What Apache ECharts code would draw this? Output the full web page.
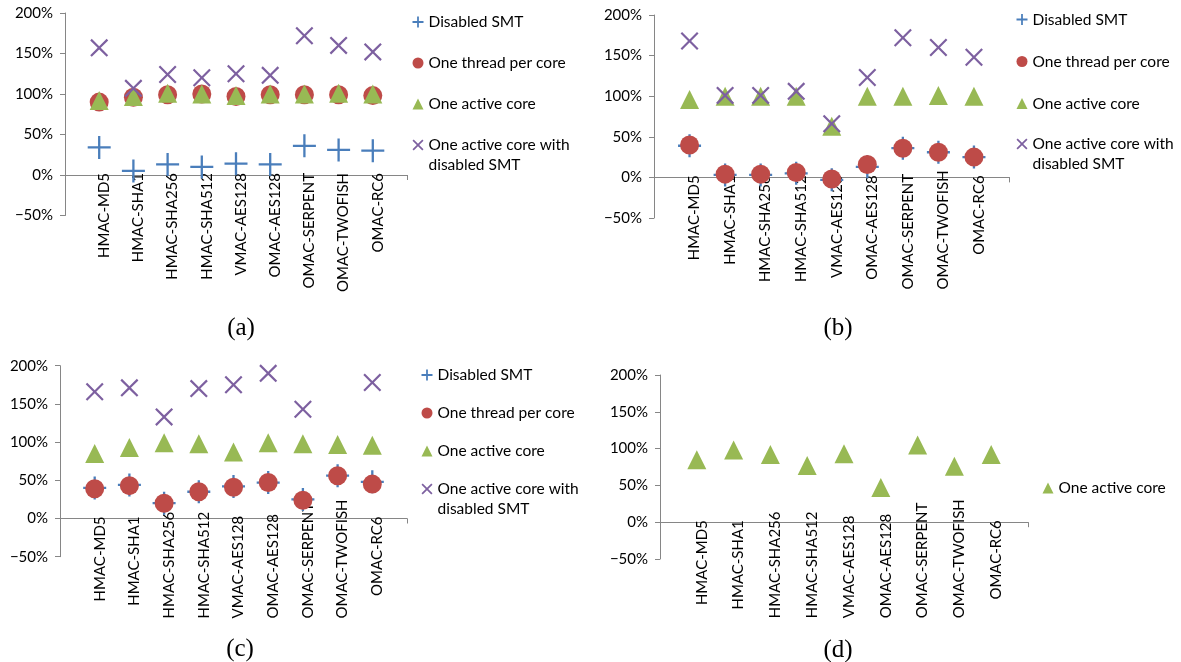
<!DOCTYPE html>
<html><head><meta charset="utf-8">
<script src="https://cdn.jsdelivr.net/npm/echarts@6/dist/echarts.min.js"></script>
<style>html,body{margin:0;padding:0;background:#fff}#c{width:1181px;height:662px}</style>
</head><body><div id="c"></div>
<script>
// ---------- data ----------
const categories = ['HMAC-MD5','HMAC-SHA1','HMAC-SHA256','HMAC-SHA512','VMAC-AES128','OMAC-AES128','OMAC-SERPENT','OMAC-TWOFISH','OMAC-RC6'];
const seriesNames = ['Disabled SMT','One thread per core','One active core','One active core with disabled SMT'];
const captions = ['(a)','(b)','(c)','(d)'];
const yMin = -50, yMax = 200, yStep = 50;

const aDisabledSMT        = [34, 5, 13, 10, 14, 13, 36, 31, 30];
const aOneThreadPerCore   = [90, 96, 99, 100, 97, 99, 99, 99, 98];
const aOneActiveCore      = [92, 97, 101, 100, 98, 100, 100, 101, 100];
const aOneActiveCoreNoSMT = [157, 107, 124, 120, 125, 123, 172, 160, 152];

const bDisabledSMT        = [39, 3, 3, 5, -3, 13, 36, 31, 25];
const bOneThreadPerCore   = [40, 4, 4, 6, -2, 16, 36, 31, 25];
const bOneActiveCore      = [96, 100, 100, 100, 63, 100, 100, 101, 100];
const bOneActiveCoreNoSMT = [168, 101, 101, 106, 66, 123, 172, 160, 148];

const cDisabledSMT        = [40, 44, 20, 35, 42, 47, 25, 56, 48];
const cOneThreadPerCore   = [39, 43, 20, 35, 41, 47, 24, 56, 45];
const cOneActiveCore      = [85, 93, 99, 98, 87, 99, 98, 97, 96];
const cOneActiveCoreNoSMT = [166, 171, 133, 170, 175, 190, 143, null, 178];

const dOneActiveCore      = [85, 98, 92, 77, 93, 47, 105, 76, 92];

// ---------- styling ----------
const colors = ['#4A7EBB', '#BE4B48', '#98B954', '#7D60A0'];
const plusPath = 'path://M45,0 L55,0 L55,45 L100,45 L100,55 L55,55 L55,100 L45,100 L45,55 L0,55 L0,45 L45,45 Z';
const plusIcon = 'path://M42,0 L58,0 L58,42 L100,42 L100,58 L58,58 L58,100 L42,100 L42,58 L0,58 L0,42 L42,42 Z';
const xPath = 'path://M0,8.6 L8.6,0 L50,41.4 L91.4,0 L100,8.6 L58.6,50 L100,91.4 L91.4,100 L50,58.6 L8.6,100 L0,91.4 L41.4,50 Z';
const xIcon = 'path://M0,11 L11,0 L50,39 L89,0 L100,11 L61,50 L100,89 L89,100 L50,61 L11,100 L0,89 L39,50 Z';
const symbols = [plusPath, 'circle', 'triangle', xPath];
const icons = [plusIcon, 'circle', 'triangle', xIcon];
const sizes = [23, 19, 19, 18];
const axisGray = '#868686';
const FONT = 'Lato';
const LABEL_SIZE = 15;
const labelShiftPx = 5;

const panels = [
  {grid:{left:65, top:13, width:342, height:202.5}, sets:[aDisabledSMT,aOneThreadPerCore,aOneActiveCore,aOneActiveCoreNoSMT],
   legend:{left:412.5, top:12, gap:21, top4:115}, cap:[241,328], labelRoom:125},
  {grid:{left:654, top:15, width:355.5, height:203}, sets:[bDisabledSMT,bOneThreadPerCore,bOneActiveCore,bOneActiveCoreNoSMT],
   legend:{left:1016.5, top:9.5, gap:22, top4:114}, cap:[838,328], labelRoom:110},
  {grid:{left:60, top:365.7, width:347, height:191}, sets:[cDisabledSMT,cOneThreadPerCore,cOneActiveCore,cOneActiveCoreNoSMT],
   legend:{left:421.5, top:365, gap:18, top4:459}, cap:[240,649], labelRoom:98},
  {grid:{left:660, top:375, width:368, height:184}, sets:[null,null,dOneActiveCore,null],
   legend:{left:1042.5, top:478, gap:18, top4:null}, cap:[838,650], labelRoom:94}
];

// text measurement, so over-long labels stop at the available room (as in the original)
const ctx = document.createElement('canvas').getContext('2d');
ctx.font = LABEL_SIZE + 'px ' + FONT;
const textLen = s => ctx.measureText(s).width;

const grid = [], xAxis = [], yAxis = [], series = [], legend = [], graphic = [];
const legendText = {fontFamily: FONT, fontSize: 15.5, lineHeight: 20, color: '#000'};
const nX = categories.length + 1;
const labelTopGap = -2;

panels.forEach((p, pi) => {
  grid.push(Object.assign({outerBoundsMode: 'none', containLabel: false}, p.grid));
  const zeroOffset = p.grid.height * (0 - yMin) / (yMax - yMin);
  const shift = labelShiftPx * nX / p.grid.width;
  const longIdx = [], shortIdx = [];
  categories.forEach((c, i) => (textLen(c) + 2 > p.labelRoom ? longIdx : shortIdx).push(i));
  const xi = xAxis.length;
  const fmt = v => categories[Math.round(v) - 1] || '';
  xAxis.push({
    type: 'value', gridIndex: pi, min: 0, max: nX, offset: -zeroOffset,
    axisLine: {onZero: false, lineStyle: {color: axisGray, width: 1}},
    axisTick: {show: true, length: 5, customValues: [nX], lineStyle: {color: axisGray}},
    splitLine: {show: false},
    axisLabel: {
      customValues: shortIdx.map(i => i + 1 + shift),
      rotate: 90, margin: labelTopGap, color: '#000', fontFamily: FONT, fontSize: LABEL_SIZE,
      formatter: fmt
    }
  });
  if (longIdx.length) {
    // a label-only axis lying at the bottom of the label room; its labels grow upward from it
    xAxis.push({
      type: 'value', gridIndex: pi, min: 0, max: nX, position: 'top',
      offset: -(p.grid.height - zeroOffset + p.labelRoom),
      axisLine: {show: false, onZero: false}, axisTick: {show: false}, splitLine: {show: false},
      axisLabel: {
        customValues: longIdx.map(i => i + 1 + shift),
        rotate: -90, margin: labelTopGap, color: '#000', fontFamily: FONT, fontSize: LABEL_SIZE,
        formatter: fmt
      }
    });
  }
  yAxis.push({
    type: 'value', gridIndex: pi, min: yMin, max: yMax, interval: yStep,
    axisLine: {show: true, lineStyle: {color: axisGray, width: 1}},
    axisTick: {show: true, length: 5, lineStyle: {color: axisGray}},
    splitLine: {show: false},
    axisLabel: {margin: 12, color: '#000', fontFamily: FONT, fontSize: 15,
      formatter: v => (v < 0 ? '\u2212' + Math.abs(v) : v) + '%'}
  });
  const present = [];
  p.sets.forEach((arr, si) => {
    if (!arr) return;
    present.push(si);
    series.push({
      type: 'scatter', name: seriesNames[si], xAxisIndex: xi, yAxisIndex: pi,
      symbol: symbols[si], symbolSize: sizes[si],
      itemStyle: {color: colors[si], opacity: 1},
      data: arr.map((v, i) => [i + 1, v]).filter(d => d[1] !== null),
      z: 2 + si
    });
  });
  const first = present.filter(si => si < 3);
  legend.push({
    orient: 'vertical', left: p.legend.left, top: p.legend.top, itemGap: p.legend.gap,
    itemWidth: 11, itemHeight: 11, padding: 0, selectedMode: false,
    data: first.map(si => ({name: seriesNames[si], icon: icons[si]})),
    textStyle: legendText
  });
  if (present.includes(3)) {
    legend.push({
      orient: 'vertical', left: p.legend.left, top: p.legend.top4,
      itemWidth: 11, itemHeight: 11, padding: 0, selectedMode: false,
      data: [{name: seriesNames[3], icon: icons[3]}],
      formatter: n => '\n' + n.replace('with ', 'with\n'),
      textStyle: legendText
    });
  }
  graphic.push({
    type: 'text', x: p.cap[0], y: p.cap[1],
    style: {text: captions[pi], fontFamily: 'Liberation Serif', fontSize: 25, fill: '#000', align: 'center', verticalAlign: 'middle'}
  });
});

const chart = echarts.init(document.getElementById('c'), null, {renderer: 'canvas'});
chart.setOption({animation: false, backgroundColor: '#fff', grid, xAxis, yAxis, series, legend, graphic});
</script></body></html>
